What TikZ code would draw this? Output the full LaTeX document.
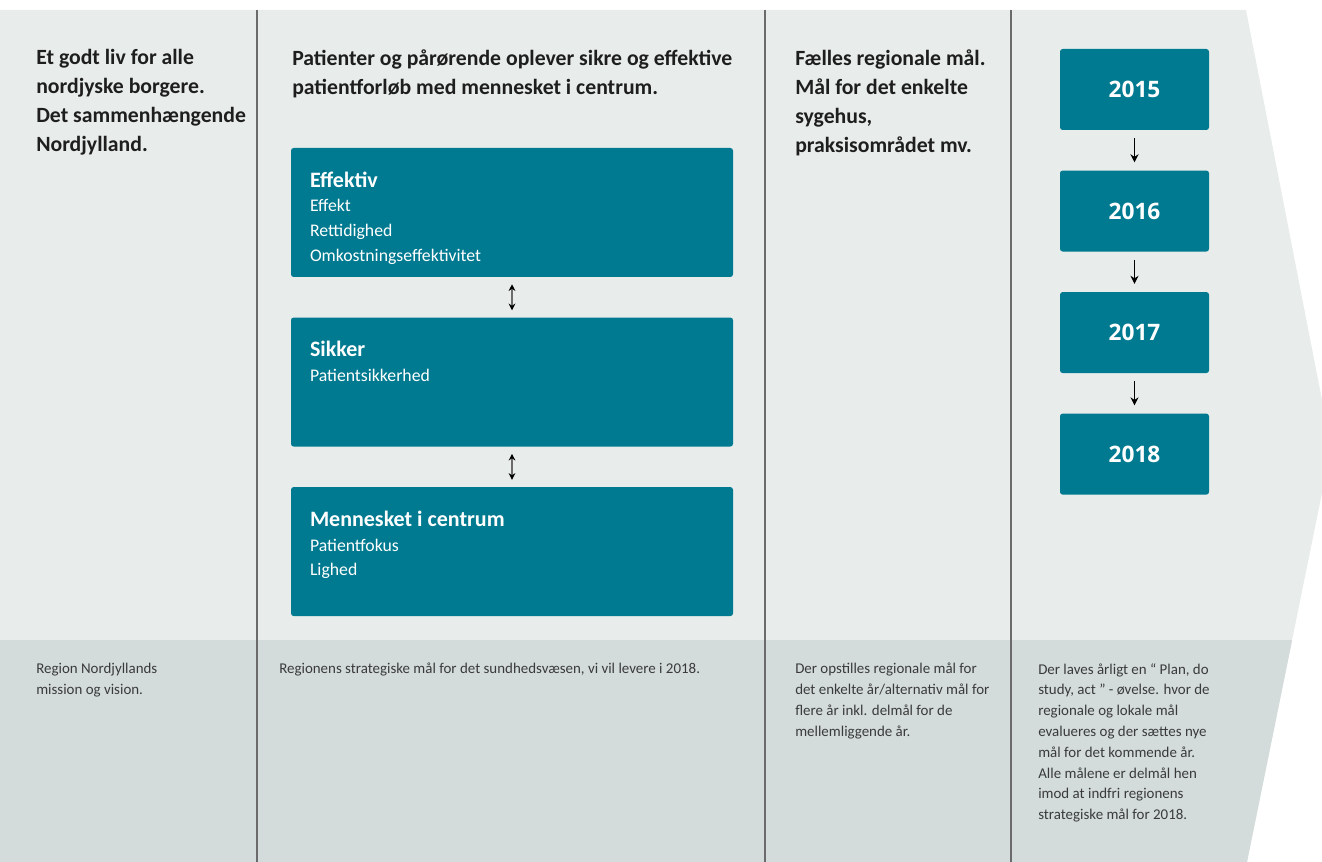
\documentclass[tikz,border=0pt]{standalone}
\usepackage{fontspec}
\setmainfont{Carlito}
\newfontfamily\yearfont{Open Sans}
\usetikzlibrary{positioning,arrows.meta}
\definecolor{petrol}{HTML}{007A90}
\definecolor{lightbg}{HTML}{E8ECEB}
\definecolor{lowbg}{HTML}{D3DCDB}
\definecolor{rule}{HTML}{6B6B6B}
\definecolor{ink}{HTML}{1E1E1E}
\definecolor{noteink}{HTML}{3A3A3A}
\begin{document}
\begin{tikzpicture}[x=0.75pt, y=-0.75pt, node distance=30pt,
    card/.style = {fill=petrol, rounded corners=2pt, minimum width=331.5pt, minimum height=96.75pt, inner sep=0pt},
    year/.style = {fill=petrol, rounded corners=2pt, minimum width=111.75pt, minimum height=60.75pt, inner sep=0pt, text=white, font=\yearfont\bfseries\fontsize{17}{20}\selectfont},
    head/.style = {anchor=north west, align=left, inner sep=0pt, text=ink, font=\bfseries\fontsize{16.3}{21.75}\selectfont},
    cardtext/.style = {anchor=north west, align=left, inner sep=0pt, text=white, font=\fontsize{13.3}{18.4}\selectfont},
    note/.style = {anchor=north west, align=left, inner sep=0pt, text=noteink, font=\fontsize{11.2}{15.6}\selectfont},
    twoway/.style = {{Stealth[length=5pt,width=5pt,color=black]}-{Stealth[length=5pt,width=5pt,color=black]}, draw=rule, line width=0.9pt, shorten <=5.25pt, shorten >=5.25pt},
    oneway/.style = {-{Stealth[length=6pt,width=6pt]}, line width=0.8pt, shorten <=6pt, shorten >=6pt}]
    \useasboundingbox (0,0) rectangle (1322,862);

    % background arrow shape
    \fill[lightbg] (0,10) -- (1246,10) -- (1322,400) -- (1322,493) -- (1247,862) -- (0,862) -- cycle;
    \begin{scope}
        \clip (0,10) -- (1246,10) -- (1322,400) -- (1322,493) -- (1247,862) -- (0,862) -- cycle;
        \fill[lowbg] (0,640) rectangle (1322,862);
    \end{scope}
    \foreach \x in {257,765,1011}
        \draw[rule, line width=1.5pt] (\x,10) -- (\x,862);

    % headings
    \node[head] (mission) at (36,49) {Et godt liv for alle\\nordjyske borgere.\\Det sammenhængende\\Nordjylland.};
    \node[head] (vision) at (292,49) {Patienter og pårørende oplever sikre og effektive\\patientforløb med mennesket i centrum.};
    \node[head] (goals) at (795,49) {Fælles regionale mål.\\Mål for det enkelte\\sygehus,\\praksisområdet mv.};

    % the three boxes
    \node[card] (eff) at (512,212.5) {};
    \node[card, below=of eff] (sik) {};
    \node[card, below=of sik] (men) {};

    \node[cardtext] (efftxt) at ([shift={(19,24)}]eff.north west) {{\bfseries\fontsize{16.5}{19.5}\selectfont Effektiv}\\Effekt\\Rettidighed\\Omkostningseffektivitet};
    \node[cardtext] (siktxt) at ([shift={(19,24)}]sik.north west) {{\bfseries\fontsize{16.5}{19.5}\selectfont Sikker}\\Patientsikkerhed};
    \node[cardtext] (mentxt) at ([shift={(19,24)}]men.north west) {{\bfseries\fontsize{16.5}{19.5}\selectfont Mennesket i centrum}\\Patientfokus\\Lighed};

    \draw[twoway] (eff) -- (sik);
    \draw[twoway] (sik) -- (men);

    % years
    \node[year] (y15) at (1134.5,89.5) {2015};
    \node[year, below=of y15] (y16) {2016};
    \node[year, below=of y16] (y17) {2017};
    \node[year, below=of y17] (y18) {2018};

    \draw[oneway] (y15) -- (y16);
    \draw[oneway] (y16) -- (y17);
    \draw[oneway] (y17) -- (y18);

    % notes in the lower band
    \node[note] (n1) at (36,663) {Region Nordjyllands\\mission og vision.};
    \node[note] (n2) at (279,663) {Regionens strategiske mål for det sundhedsvæsen, vi vil levere i 2018.};
    \node[note] (n3) at (795,663) {Der opstilles regionale mål for\\det enkelte år/alternativ mål for\\flere år inkl. delmål for de\\mellemliggende år.};
    \node[note] (n4) at (1038,663) {Der laves årligt en “ Plan, do\\study, act ” - øvelse. hvor de\\regionale og lokale mål\\evalueres og der sættes nye\\mål for det kommende år.\\Alle målene er delmål hen\\imod at indfri regionens\\strategiske mål for 2018.};
\end{tikzpicture}
\end{document}
